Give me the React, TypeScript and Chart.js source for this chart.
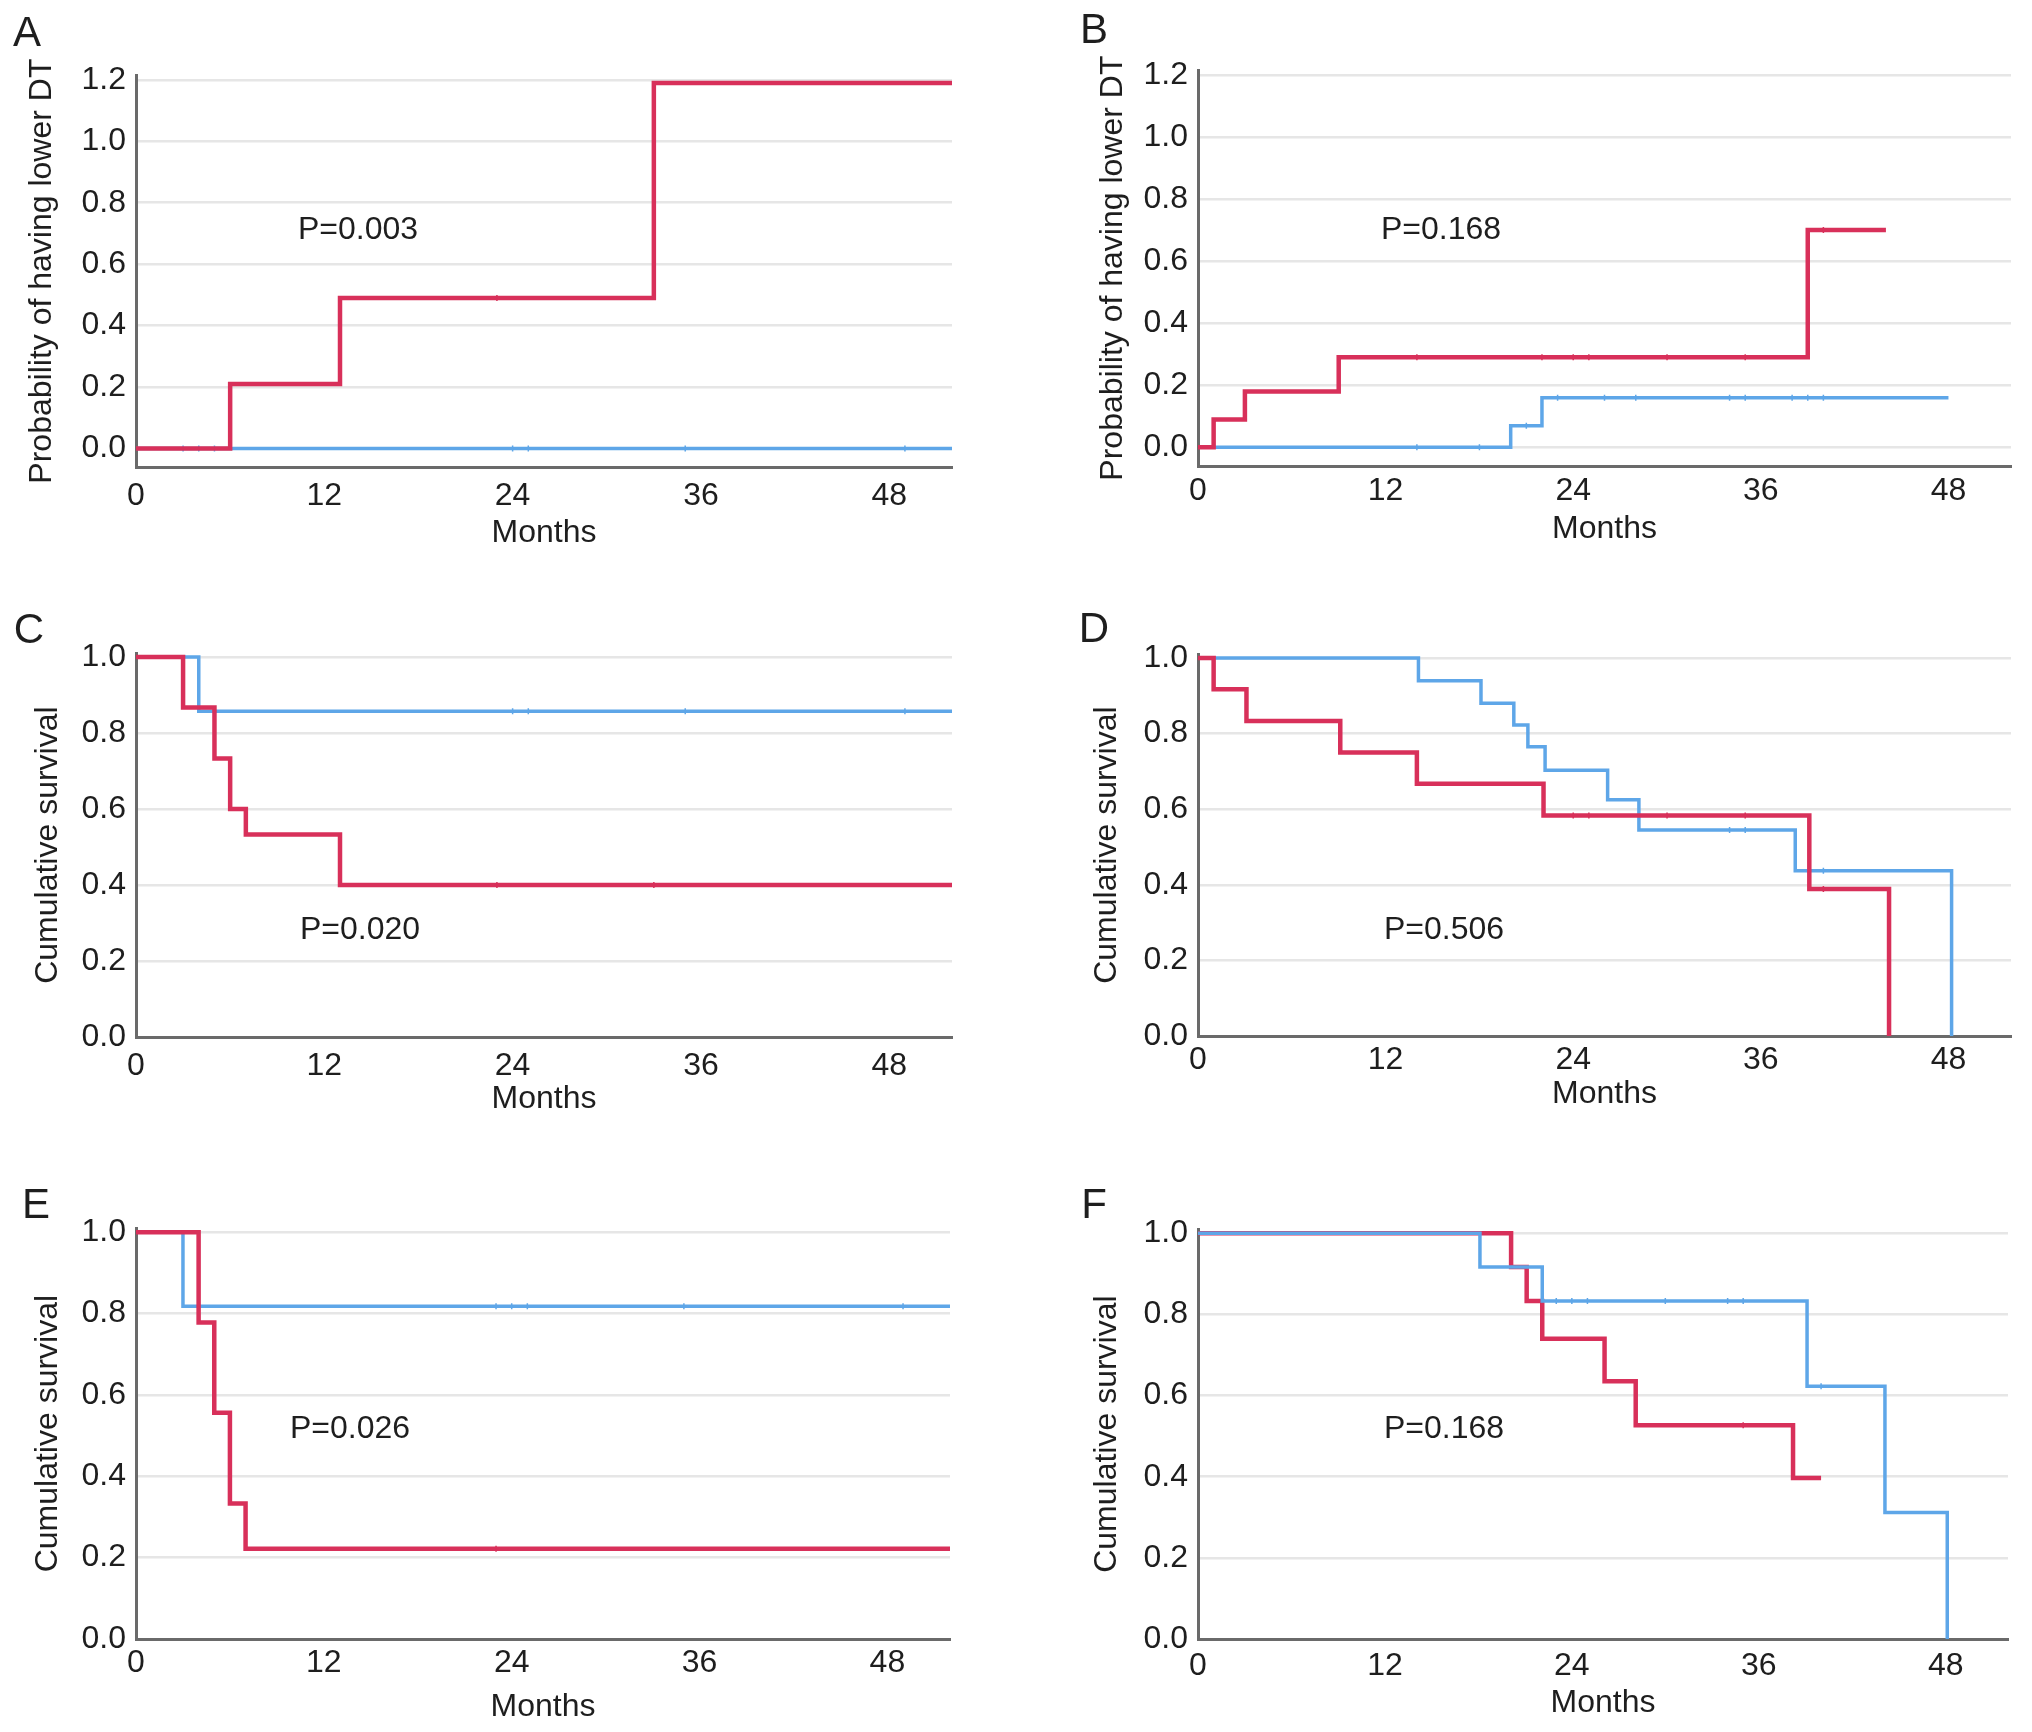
import React, { useEffect, useRef } from 'react';
import { Chart, registerables } from 'chart.js';

Chart.register(...registerables);

const FONT = '"Liberation Sans", Arial, Helvetica, sans-serif';
const RED = '#d8305a';
const BLUE = '#5ea6e8';
const TEXT = '#1e1e1e';

// ---------- axis ticks ----------
const monthTicks = [0, 12, 24, 36, 48];
const probTicks = [0, 0.2, 0.4, 0.6, 0.8, 1.0, 1.2];
const survTicks = [0, 0.2, 0.4, 0.6, 0.8, 1.0];

// ---------- Panel A ----------
const aRedTimes = [0, 6, 13, 33, 52];
const aRedValues = [0, 0.21, 0.49, 1.19, 1.19];
const aBlueTimes = [0, 52];
const aBlueValues = [0, 0];
const aRedCensor = [23];
const aBlueCensor = [3, 4, 5, 24, 25, 35, 49];

// ---------- Panel B ----------
const bRedTimes = [0, 1, 3, 9, 39, 44];
const bRedValues = [0, 0.09, 0.18, 0.29, 0.7, 0.7];
const bBlueTimes = [0, 20, 22, 48];
const bBlueValues = [0, 0.07, 0.16, 0.16];
const bRedCensor = [14, 22, 24, 25, 30, 35, 40];
const bBlueCensor = [14, 18, 21, 23, 26, 28, 34, 35, 38, 39, 40];

// ---------- Panel C ----------
const cRedTimes = [0, 3, 5, 6, 7, 13, 52];
const cRedValues = [1, 0.867, 0.733, 0.6, 0.533, 0.4, 0.4];
const cBlueTimes = [0, 4, 52];
const cBlueValues = [1, 0.857, 0.857];
const cRedCensor = [23, 33];
const cBlueCensor = [24, 25, 35, 49];

// ---------- Panel D ----------
const dRedTimes = [0, 1, 3.1, 9.1, 14, 22.1, 39.1, 44.2];
const dRedValues = [1, 0.917, 0.833, 0.75, 0.667, 0.583, 0.389, 0];
const dBlueTimes = [0, 14.1, 18.1, 20.2, 21.1, 22.2, 26.2, 28.2, 38.2, 48.2];
const dBlueValues = [1, 0.94, 0.88, 0.823, 0.765, 0.703, 0.625, 0.545, 0.437, 0];
const dRedCensor = [24, 25, 30, 35, 40];
const dBlueCensor = [34, 35, 40];

// ---------- Panel E ----------
const eRedTimes = [0, 4, 5, 6, 7, 52];
const eRedValues = [1, 0.778, 0.556, 0.333, 0.222, 0.222];
const eBlueTimes = [0, 3, 52];
const eBlueValues = [1, 0.818, 0.818];
const eRedCensor = [23];
const eBlueCensor = [23, 24, 25, 35, 49];

// ---------- Panel F ----------
const fRedTimes = [0, 20.1, 21.1, 22.1, 26.1, 28.1, 38.2, 40];
const fRedValues = [1, 0.917, 0.833, 0.74, 0.635, 0.527, 0.397, 0.397];
const fBlueTimes = [0, 18.1, 22.1, 39.1, 44.1, 48.1];
const fBlueValues = [1, 0.917, 0.833, 0.623, 0.312, 0];
const fRedCensor = [35];
const fBlueCensor = [23, 24, 25, 30, 34, 35, 40];

type Series = { times: number[]; values: number[]; censor: number[]; color: string; width: number };

type PanelSpec = {
  letter: string;
  letterX: number;
  letterY: number;
  pText: string;
  pX: number;
  pY: number;
  L: number; R: number; T: number; B: number;
  yMin: number; yMax: number;
  yTicks: number[];
  yTitle: string;
  titleX: number;
  monthsY: number;
  xPad: number;
  series: Series[]; // first drawn on top
};

const PROB_TITLE = 'Probability of having lower DT';
const SURV_TITLE = 'Cumulative survival';

const panels: PanelSpec[] = [
  {
    letter: 'A', letterX: 27, letterY: 32, pText: 'P=0.003', pX: 358, pY: 228,
    L: 136, R: 952, T: 68, B: 467, yMin: -0.06, yMax: 1.215, yTicks: probTicks,
    yTitle: PROB_TITLE, titleX: 42, monthsY: 533, xPad: 10,
    series: [
      { times: aRedTimes, values: aRedValues, censor: aRedCensor, color: RED, width: 4.5 },
      { times: aBlueTimes, values: aBlueValues, censor: aBlueCensor, color: BLUE, width: 3.5 },
    ],
  },
  {
    letter: 'B', letterX: 1094, letterY: 29, pText: 'P=0.168', pX: 1441, pY: 228,
    L: 1198, R: 2011, T: 63, B: 466, yMin: -0.06, yMax: 1.215, yTicks: probTicks,
    yTitle: PROB_TITLE, titleX: 1113, monthsY: 529, xPad: 6,
    series: [
      { times: bRedTimes, values: bRedValues, censor: bRedCensor, color: RED, width: 4.5 },
      { times: bBlueTimes, values: bBlueValues, censor: bBlueCensor, color: BLUE, width: 3.5 },
    ],
  },
  {
    letter: 'C', letterX: 29, letterY: 629, pText: 'P=0.020', pX: 360, pY: 928,
    L: 136, R: 952, T: 646, B: 1037, yMin: 0, yMax: 1.01, yTicks: survTicks,
    yTitle: SURV_TITLE, titleX: 48, monthsY: 1099, xPad: 10,
    series: [
      { times: cRedTimes, values: cRedValues, censor: cRedCensor, color: RED, width: 4.5 },
      { times: cBlueTimes, values: cBlueValues, censor: cBlueCensor, color: BLUE, width: 3.5 },
    ],
  },
  {
    letter: 'D', letterX: 1094, letterY: 628, pText: 'P=0.506', pX: 1444, pY: 928,
    L: 1198, R: 2011, T: 647, B: 1036, yMin: 0, yMax: 1.01, yTicks: survTicks,
    yTitle: SURV_TITLE, titleX: 1107, monthsY: 1094, xPad: 5,
    series: [
      { times: dRedTimes, values: dRedValues, censor: dRedCensor, color: RED, width: 4.5 },
      { times: dBlueTimes, values: dBlueValues, censor: dBlueCensor, color: BLUE, width: 3.5 },
    ],
  },
  {
    letter: 'E', letterX: 36, letterY: 1204, pText: 'P=0.026', pX: 350, pY: 1427,
    L: 136, R: 950, T: 1221, B: 1639, yMin: 0, yMax: 1.01, yTicks: survTicks,
    yTitle: SURV_TITLE, titleX: 48, monthsY: 1707, xPad: 5,
    series: [
      { times: eRedTimes, values: eRedValues, censor: eRedCensor, color: RED, width: 4.5 },
      { times: eBlueTimes, values: eBlueValues, censor: eBlueCensor, color: BLUE, width: 3.5 },
    ],
  },
  {
    letter: 'F', letterX: 1094, letterY: 1204, pText: 'P=0.168', pX: 1444, pY: 1427,
    L: 1198, R: 2008, T: 1222, B: 1639, yMin: 0, yMax: 1.01, yTicks: survTicks,
    yTitle: SURV_TITLE, titleX: 1107, monthsY: 1703, xPad: 8,
    series: [
      { times: fBlueTimes, values: fBlueValues, censor: fBlueCensor, color: BLUE, width: 3.5 },
      { times: fRedTimes, values: fRedValues, censor: fRedCensor, color: RED, width: 4.5 },
    ],
  },
];

function stepValueAt(times: number[], values: number[], t: number): number {
  let v = values[0];
  for (let i = 0; i < times.length; i++) {
    if (times[i] <= t) v = values[i];
  }
  return v;
}

const PAD_TOP = 22;
const PAD_RIGHT = 14;
const LINE_H = 32 * 1.2;

function Panel({ spec }: { spec: PanelSpec }) {
  const ref = useRef<HTMLCanvasElement | null>(null);

  const canvasLeft = Math.round(spec.titleX - LINE_H / 2);
  const yAxisWidth = spec.L - canvasLeft;
  const canvasTop = spec.T - PAD_TOP;
  const xAxisHeight = Math.round(spec.monthsY + LINE_H / 2 - spec.B);
  const width = yAxisWidth + (spec.R - spec.L) + PAD_RIGHT;
  const height = PAD_TOP + (spec.B - spec.T) + xAxisHeight;

  useEffect(() => {
    if (!ref.current) return;
    const datasets: any[] = [];
    spec.series.forEach((s, i) => {
      datasets.push({
        type: 'line',
        data: s.times.map((t, k) => ({ x: t, y: s.values[k] })),
        borderColor: s.color,
        borderWidth: s.width,
        stepped: true,
        pointRadius: 0,
        fill: false,
        order: i * 2 + 1,
        clip: 6,
      });
      datasets.push({
        type: 'line',
        data: s.censor.map((t) => ({ x: t, y: stepValueAt(s.times, s.values, t) })),
        showLine: false,
        pointStyle: 'line',
        rotation: 90,
        pointRadius: 3,
        pointBorderWidth: 1.5,
        pointBorderColor: s.color,
        pointBackgroundColor: s.color,
        borderColor: s.color,
        order: i * 2,
        clip: 6,
      });
    });

    const chart = new Chart(ref.current, {
      type: 'line',
      data: { datasets },
      options: {
        animation: false,
        responsive: false,
        devicePixelRatio: 1,
        events: [],
        layout: { padding: { top: PAD_TOP, right: PAD_RIGHT, left: 0, bottom: 0 } },
        plugins: { legend: { display: false }, tooltip: { enabled: false } },
        scales: {
          x: {
            type: 'linear',
            min: 0,
            max: 52,
            afterBuildTicks: (scale: any) => {
              scale.ticks = monthTicks.map((v) => ({ value: v }));
            },
            afterFit: (scale: any) => {
              scale.height = xAxisHeight;
            },
            grid: { display: true, color: 'rgba(0,0,0,0)', drawTicks: false, drawOnChartArea: false },
            border: { display: true, color: '#6a6a6a', width: 3 },
            ticks: {
              autoSkip: false,
              maxRotation: 0,
              padding: spec.xPad,
              color: TEXT,
              font: { family: FONT, size: 32 },
              callback: (v: any) => String(v),
            },
            title: {
              display: true,
              text: 'Months',
              color: TEXT,
              padding: 0,
              font: { family: FONT, size: 32 },
            },
          },
          y: {
            type: 'linear',
            min: spec.yMin,
            max: spec.yMax,
            afterBuildTicks: (scale: any) => {
              scale.ticks = spec.yTicks.map((v) => ({ value: v }));
            },
            afterFit: (scale: any) => {
              scale.width = yAxisWidth;
            },
            grid: { display: true, color: '#e6e6e6', lineWidth: 2.5, drawTicks: false },
            border: { display: true, color: '#6a6a6a', width: 3 },
            ticks: {
              autoSkip: false,
              padding: 10,
              color: TEXT,
              font: { family: FONT, size: 32 },
              callback: (v: any) => Number(v).toFixed(1),
            },
            title: {
              display: true,
              text: spec.yTitle,
              color: TEXT,
              padding: 0,
              font: { family: FONT, size: 32 },
            },
          },
        },
      } as any,
    });
    return () => chart.destroy();
  }, []);

  return (
    <>
      <canvas
        ref={ref}
        width={width}
        height={height}
        style={{ position: 'absolute', left: canvasLeft, top: canvasTop, width, height }}
      />
      <div
        style={{
          position: 'absolute',
          left: spec.letterX,
          top: spec.letterY,
          transform: 'translate(-50%, -50%)',
          font: `42px ${FONT}`,
          color: TEXT,
          lineHeight: 1,
        }}
      >
        {spec.letter}
      </div>
      <div
        style={{
          position: 'absolute',
          left: spec.pX,
          top: spec.pY,
          transform: 'translate(-50%, -50%)',
          font: `32px ${FONT}`,
          color: TEXT,
          lineHeight: 1,
          whiteSpace: 'nowrap',
        }}
      >
        {spec.pText}
      </div>
    </>
  );
}

export default function App() {
  return (
    <div
      style={{
        position: 'absolute',
        left: 0,
        top: 0,
        width: 2032,
        height: 1732,
        background: '#ffffff',
        overflow: 'hidden',
      }}
    >
      {panels.map((p) => (
        <Panel key={p.letter} spec={p} />
      ))}
    </div>
  );
}
